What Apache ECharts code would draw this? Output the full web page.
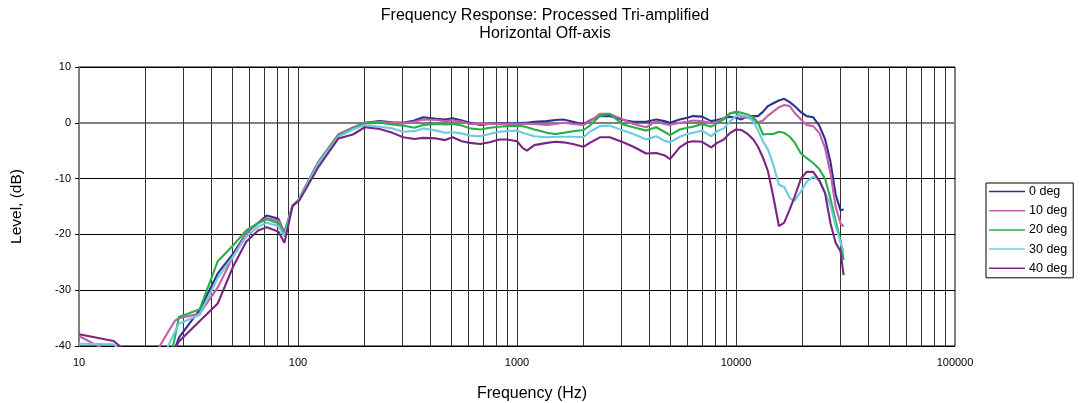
<!DOCTYPE html>
<html>
<head>
<meta charset="utf-8">
<script src="https://cdn.jsdelivr.net/npm/echarts@6/dist/echarts.min.js"></script>
<style>
html,body{margin:0;padding:0;background:#fff;}
#chart{width:1080px;height:403px;}
</style>
</head>
<body>
<div id="chart"></div>
<script>
// Frequencies (Hz) shared by all series
const freqs = [
  10, 14.4, 17, 20, 23.4, 25.5, 27.4, 28.6, 35.6, 43, 50.5, 58, 65.8, 72, 81.3, 86.7, 94.4,
  101, 124.5, 153, 178, 202, 236, 270, 302, 340, 373, 428, 470, 508, 560, 610, 680, 750, 830, 901,
  1000, 1060, 1110, 1200, 1370, 1500, 1630, 1800, 2010, 2150, 2390, 2650, 3050, 3400, 3890, 4320, 4700,
  5000, 5530, 6000, 6370, 7000, 7700, 8200, 8800, 9400, 10000, 10600, 11300, 12000, 12600, 13300,
  14000, 14800, 15700, 16600, 17600, 18500, 19800, 21000, 22500, 24000, 25500, 27000, 28500, 30000, 31000
];

const deg0 = [
  -46, -48, -50, -52, -48, -44, -40.5, -38.5, -33.5, -27.0, -23.5, -19.8, -17.9, -16.6, -17.2, -19.8, -14.9,
  -13.7, -6.9, -2.1, -0.9, 0.0, 0.3, 0.1, 0.0, 0.4, 1.0, 0.7, 0.6, 0.8, 0.4, 0.0, -0.4, -0.2, -0.1, -0.1,
  -0.1, 0.0, 0.0, 0.2, 0.3, 0.5, 0.6, 0.2, -0.3, 0.4, 1.2, 1.2, 0.5, 0.2, 0.2, 0.6, 0.3,
  0.0, 0.6, 0.9, 1.2, 1.1, 0.3, 0.5, 0.8, 1.1, 0.9, 0.6, 1.2, 1.2, 1.2, 2.0,
  3.0, 3.5, 4.0, 4.3, 3.7, 3.0, 1.9, 1.2, 1.0, -0.5, -2.9, -7.0, -12.8, -15.7, -15.5
];

const deg10 = [
  -38.2, -41.5, -44, -46, -40, -37.5, -35.5, -35.0, -34.2, -29.5, -24.0, -19.8, -17.9, -17.1, -17.5, -19.5, -14.9,
  -13.7, -6.9, -2.1, -0.9, 0.0, 0.2, 0.0, -0.1, 0.2, 0.6, 0.5, 0.3, 0.4, 0.2, -0.2, -0.2, -0.2, -0.2, -0.2,
  -0.2, -0.2, -0.2, -0.2, -0.4, -0.2, 0.0, -0.2, -0.4, 0.2, 1.6, 1.6, 0.6, -0.2, -0.8, 0.3, -0.2,
  -0.4, 0.0, 0.2, 0.4, 0.3, -0.1, 0.2, 0.8, 1.7, 1.8, 1.0, 0.9, 0.6, 0.1, 0.4,
  1.3, 2.0, 2.8, 3.2, 3.0, 1.8, 0.6, -0.4, -0.6, -1.8, -4.5, -9.0, -15.0, -18.0, -18.6
];

const deg20 = [
  -50, -50, -50, -50, -48, -44, -38.5, -34.8, -33.4, -24.8, -22.0, -19.3, -18.0, -17.3, -18.0, -19.8, -14.9,
  -13.7, -7.0, -2.3, -1.0, -0.1, 0.0, -0.3, -0.5, -0.9, -0.4, -0.2, -0.3, -0.2, -0.5, -1.0, -1.2, -0.9, -0.7, -0.6,
  -0.5, -0.6, -0.8, -1.2, -1.8, -2.0, -1.8, -1.5, -1.3, -0.5, 1.2, 1.6, -0.3, -0.8, -1.4, -0.8, -1.6,
  -2.2, -1.2, -0.9, -0.7, -0.2, -0.7, -0.1, 0.6, 1.7, 2.0, 1.8, 1.5, 1.0, 0.0, -2.1,
  -2.0, -2.0, -1.6, -1.8, -2.5, -3.5, -5.5, -6.3, -7.2, -8.3, -10.0, -13.6, -17.6, -21.0, -24.6
];

const deg30 = [
  -39.6, -39.7, -42, -46, -44, -40, -37.5, -36, -34.4, -27.8, -24.0, -20.4, -18.6, -17.9, -18.5, -20.4, -14.9,
  -13.8, -7.2, -2.5, -1.2, -0.4, -0.7, -1.0, -1.6, -1.5, -1.0, -1.4, -1.8, -1.7, -1.9, -2.3, -2.4, -2.0, -1.6, -1.5,
  -1.4, -1.8, -2.0, -2.4, -2.6, -2.5, -2.5, -2.5, -2.6, -1.6, -0.6, -0.5, -1.4, -2.0, -3.0, -2.4, -3.2,
  -3.5, -2.5, -2.0, -1.8, -1.4, -2.4, -1.5, -1.0, 0.3, 1.2, 1.4, 1.2, 0.2, -1.3, -3.4,
  -4.8, -7.5, -11.1, -11.5, -13.5, -14.0, -12.3, -10.6, -9.7, -10.3, -12.5, -14.8, -18.5, -21.5, -23.0
];

const deg40 = [
  -37.9, -39.1, -41.5, -45, -46, -43, -40.5, -39.2, -35.5, -32.4, -25.8, -21.3, -19.3, -18.7, -19.5, -21.5, -14.9,
  -14.0, -7.8, -2.8, -2.1, -0.8, -1.1, -1.8, -2.6, -2.9, -2.7, -2.8, -3.1, -2.6, -3.3, -3.6, -3.8, -3.5, -3.0, -3.0,
  -3.3, -4.5, -5.0, -4.0, -3.6, -3.4, -3.5, -3.8, -4.3, -3.6, -2.6, -2.6, -3.5, -4.3, -5.5, -5.4, -5.8,
  -6.5, -4.4, -3.5, -3.3, -3.4, -4.4, -3.6, -3.0, -1.8, -1.2, -1.3, -2.0, -3.0, -4.3, -6.3,
  -8.7, -13.2, -18.5, -17.9, -15.5, -13.3, -10.0, -8.8, -8.8, -10.3, -12.6, -18.0, -21.5, -23.0, -27.3
];

const seriesNames = ['0 deg', '10 deg', '20 deg', '30 deg', '40 deg'];
const seriesColors = ['#2e3192', '#c55fa9', '#26b04a', '#6ccbe0', '#7b2481'];
const seriesValues = [deg0, deg10, deg20, deg30, deg40];

const yTicks = [-40, -30, -20, -10, 0, 10];
const xTickLabels = [10, 100, 1000, 10000, 100000];

// vertical grid line positions (1..9 per decade)
const gridFreqs = [];
for (let d = 10; d < 100000; d *= 10) {
  for (let m = 1; m <= 9; m++) {
    const v = d * m;
    if (v > 10 && v < 100000) gridFreqs.push(v);
  }
}

const FONT = "'Liberation Sans', Arial, sans-serif";
const chart = echarts.init(document.getElementById('chart'), null, {renderer: 'canvas'});

const series = seriesNames.map((name, k) => ({
  name: name,
  type: 'line',
  symbol: 'none',
  showSymbol: false,
  clip: true,
  z: 3,
  lineStyle: {color: seriesColors[k], width: 2.1},
  itemStyle: {color: seriesColors[k]},
  data: freqs.map((f, i) => [f, seriesValues[k][i]])
}));

series.unshift({
  name: 'grid',
  type: 'line',
  data: [],
  silent: true,
  markLine: {
    z: 1,
    silent: true,
    symbol: ['none', 'none'],
    label: {show: false},
    animation: false,
    lineStyle: {color: '#333', width: 1, type: 'solid'},
    emphasis: {disabled: true},
    data: gridFreqs.map(v => ({xAxis: v}))
  }
});

chart.setOption({
  animation: false,
  backgroundColor: '#fff',
  title: {
    text: 'Frequency Response: Processed Tri-amplified\nHorizontal Off-axis',
    left: 540,
    top: 2,
    textAlign: 'center',
    textStyle: {fontFamily: FONT, fontSize: 16, fontWeight: 'normal', color: '#000', lineHeight: 18}
  },
  legend: {
    data: seriesNames,
    orient: 'vertical',
    left: 986,
    top: 183,
    padding: [2, 6, 3, 3],
    itemWidth: 36,
    itemHeight: 12,
    itemGap: 6.2,
    borderColor: '#000',
    borderWidth: 1,
    icon: 'path://M0,0 L36,0 L36,1.5 L0,1.5 Z',
    textStyle: {fontFamily: FONT, fontSize: 12.5, color: '#000', padding: [0, 0, 0, -1]}
  },
  grid: {
    left: 79, right: 125, top: 67, bottom: 57,
    show: true, borderColor: '#000', borderWidth: 1, backgroundColor: '#fff',
    containLabel: false,
    outerBoundsMode: 'none'
  },
  xAxis: {
    type: 'log',
    logBase: 10,
    min: 10,
    max: 100000,
    name: 'Frequency (Hz)',
    nameLocation: 'middle',
    nameGap: 40,
    nameTextStyle: {fontFamily: FONT, fontSize: 16, color: '#000', padding: [0, 0, 0, 30]},
    axisLine: {show: true, lineStyle: {color: '#7f7f7f', width: 2}},
    axisTick: {show: false},
    splitLine: {show: false},
    axisLabel: {
      fontFamily: FONT, fontSize: 11, color: '#000', margin: 11,
      formatter: v => {
        const r = Math.round(v);
        return xTickLabels.indexOf(r) >= 0 ? String(r) : '';
      }
    }
  },
  yAxis: {
    type: 'value',
    min: -40,
    max: 10,
    interval: 10,
    name: 'Level, (dB)',
    nameLocation: 'middle',
    nameGap: 54,
    nameRotate: 90,
    nameTextStyle: {fontFamily: FONT, fontSize: 15.5, color: '#000'},
    axisLine: {show: true, lineStyle: {color: '#7f7f7f', width: 2}},
    axisTick: {show: true, length: 4, lineStyle: {color: '#000'}},
    splitLine: {show: true, lineStyle: {color: '#000', width: 1}},
    axisLabel: {
      fontFamily: FONT, fontSize: 11, color: '#000', margin: 8,
      formatter: v => (yTicks.indexOf(v) >= 0 ? String(v) : '')
    }
  },
  series: series
});
</script>
</body>
</html>
